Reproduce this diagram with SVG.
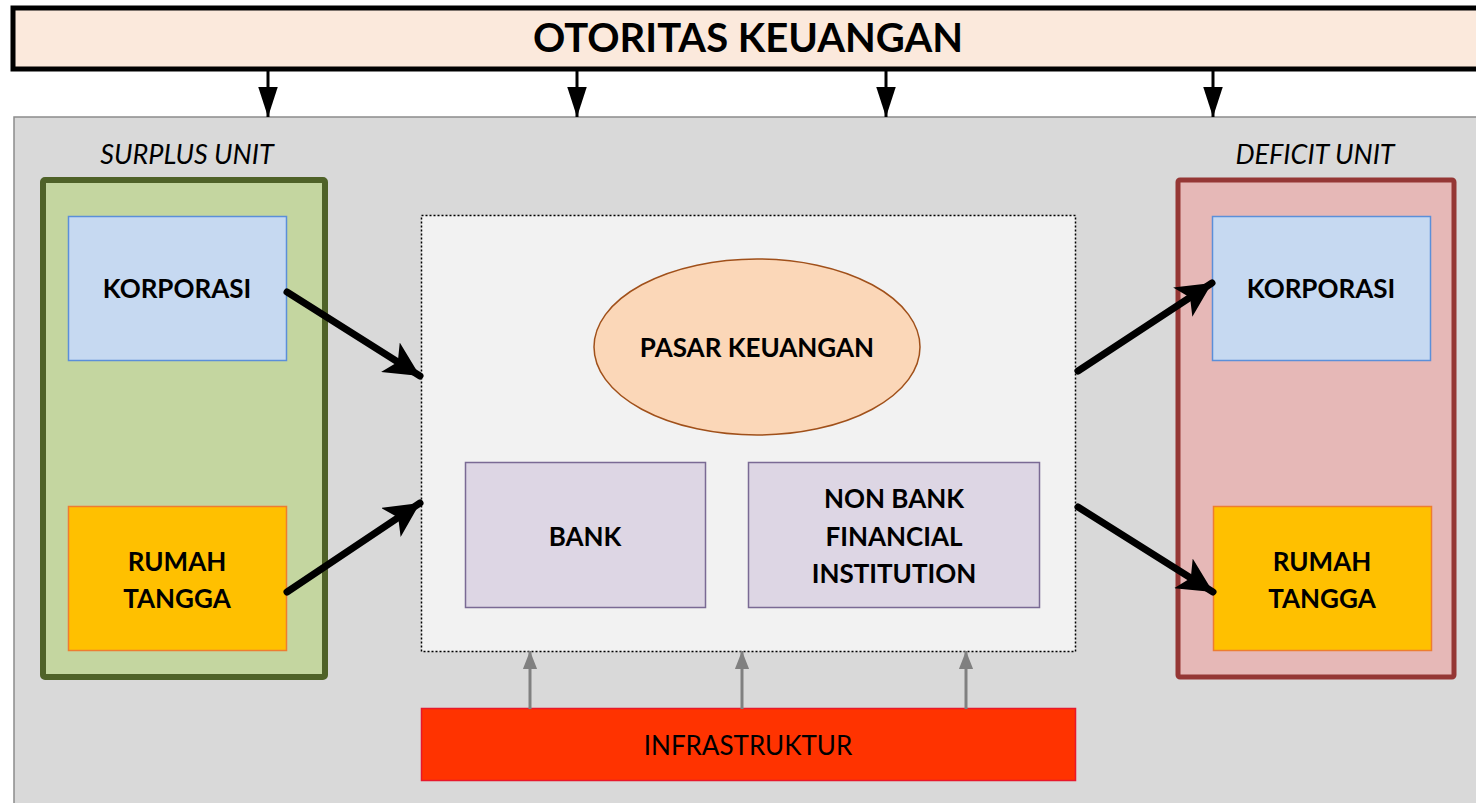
<svg xmlns="http://www.w3.org/2000/svg" width="1476" height="803" viewBox="0 0 1476 803">
<style>
text{font-family:Lato,"Open Sans","Liberation Sans",sans-serif;fill:#000}
.b{font-weight:bold;font-size:26px}
.i{font-style:italic;font-size:27px}
.box{stroke-width:1.5}
.conn{stroke:#000;stroke-width:7;stroke-linecap:round;fill:none}
.down{stroke:#000;stroke-width:3;fill:none}
.up{stroke:#808080;stroke-width:3;fill:none}
</style>
<defs>
<marker id="ah" viewBox="0 0 10 10" refX="10" refY="5" markerWidth="5" markerHeight="5" markerUnits="strokeWidth" orient="auto"><path d="M0,0 L10,5 L0,10 L2.5,5 z" fill="#000"/></marker>
<marker id="dh" viewBox="0 0 10 10" refX="10" refY="5" markerWidth="10" markerHeight="6.5" markerUnits="strokeWidth" orient="auto" preserveAspectRatio="none"><path d="M0,0 L10,5 L0,10 z" fill="#000"/></marker>
<marker id="uh" viewBox="0 0 10 10" refX="10" refY="5" markerWidth="6" markerHeight="4.7" markerUnits="strokeWidth" orient="auto" preserveAspectRatio="none"><path d="M0,0 L10,5 L0,10 z" fill="#808080"/></marker>
</defs>
<g id="container"><rect x="14" y="117" width="1480" height="700" fill="#D9D9D9" stroke="#8C8C8C" stroke-width="1.5"/></g>
<g id="otoritas"><rect x="13" y="8" width="1480" height="61" fill="#FBE9DC" stroke="#000" stroke-width="5"/><text x="748" y="52" text-anchor="middle" font-weight="bold" font-size="40">OTORITAS KEUANGAN</text></g>
<g id="surplus">
<text class="i" x="187" y="164" text-anchor="middle">SURPLUS UNIT</text>
<rect x="43" y="180" width="282" height="497" fill="#C4D6A0" stroke="#4F6228" stroke-width="6" rx="2"/>
</g>
<g id="korporasi-s"><rect class="box" x="68.5" y="216.5" width="218" height="144" fill="#C6D9F1" stroke="#5B8FD9"/><text class="b" x="177" y="298" text-anchor="middle">KORPORASI</text></g>
<g id="rumah-s"><rect class="box" x="68.5" y="506.5" width="218" height="144" fill="#FFC000" stroke="#ED7D31"/><text class="b" x="177" y="571" text-anchor="middle">RUMAH</text><text class="b" x="177" y="608" text-anchor="middle">TANGGA</text></g>
<g id="deficit">
<text class="i" x="1315" y="164" text-anchor="middle">DEFICIT UNIT</text>
<rect x="1178" y="180" width="276" height="497" fill="#E6B8B7" stroke="#953735" stroke-width="5" rx="2"/>
</g>
<g id="korporasi-d"><rect class="box" x="1212.5" y="216.5" width="218" height="144" fill="#C6D9F1" stroke="#5B8FD9"/><text class="b" x="1321" y="298" text-anchor="middle">KORPORASI</text></g>
<g id="rumah-d"><rect class="box" x="1213.5" y="506.5" width="218" height="144" fill="#FFC000" stroke="#ED7D31"/><text class="b" x="1322" y="571" text-anchor="middle">RUMAH</text><text class="b" x="1322" y="608" text-anchor="middle">TANGGA</text></g>
<g id="sistem"><rect x="421.5" y="215.5" width="654" height="436" fill="#F2F2F2" stroke="#000" stroke-width="1.5" stroke-dasharray="2,2"/></g>
<g id="pasar"><ellipse cx="757" cy="347" rx="163" ry="88" fill="#FBD7B8" stroke="#A0501A" stroke-width="1.5"/><text class="b" x="757" y="357" text-anchor="middle" font-size="26.5">PASAR KEUANGAN</text></g>
<g id="bank"><rect class="box" x="465.5" y="462.5" width="240" height="145" fill="#DDD6E4" stroke="#7A6A94"/><text class="b" x="585" y="546" text-anchor="middle">BANK</text></g>
<g id="nonbank"><rect class="box" x="748.5" y="462.5" width="291" height="145" fill="#DDD6E4" stroke="#7A6A94"/><text class="b" x="894" y="508" text-anchor="middle">NON BANK</text><text class="b" x="894" y="546" text-anchor="middle">FINANCIAL</text><text class="b" x="894" y="583" text-anchor="middle">INSTITUTION</text></g>
<g id="infra"><rect x="421.5" y="708.5" width="654" height="72" fill="#FF3300" stroke="#E8182B" stroke-width="1.5"/><text x="748" y="755" text-anchor="middle" font-size="26">INFRASTRUKTUR</text></g>
<g id="connectors">
<line class="down" x1="268" y1="69" x2="268" y2="117" marker-end="url(#dh)"/>
<line class="down" x1="577" y1="69" x2="577" y2="117" marker-end="url(#dh)"/>
<line class="down" x1="886" y1="69" x2="886" y2="117" marker-end="url(#dh)"/>
<line class="down" x1="1213" y1="69" x2="1213" y2="117" marker-end="url(#dh)"/>
<line class="conn" x1="287" y1="292" x2="420" y2="376" marker-end="url(#ah)"/>
<line class="conn" x1="287" y1="592" x2="420" y2="503" marker-end="url(#ah)"/>
<line class="conn" x1="1078" y1="371" x2="1212" y2="283" marker-end="url(#ah)"/>
<line class="conn" x1="1078" y1="507" x2="1213" y2="592" marker-end="url(#ah)"/>
<line class="up" x1="530" y1="709" x2="530" y2="651" marker-end="url(#uh)"/>
<line class="up" x1="742" y1="709" x2="742" y2="651" marker-end="url(#uh)"/>
<line class="up" x1="966" y1="709" x2="966" y2="651" marker-end="url(#uh)"/>
</g>
</svg>
